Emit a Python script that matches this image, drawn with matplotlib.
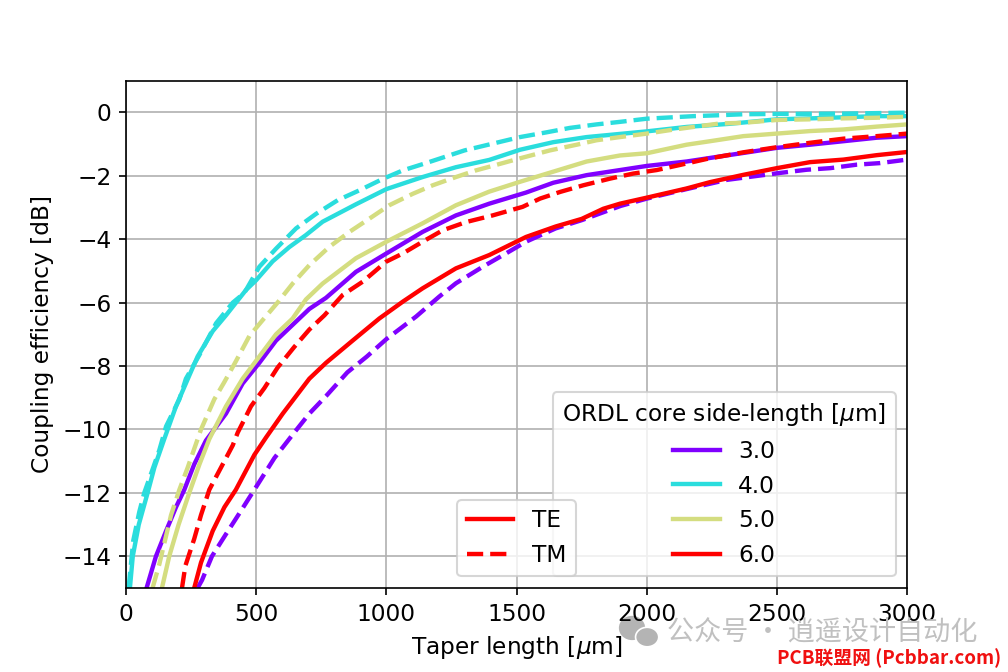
#!/usr/bin/env python3

import numpy as np
import matplotlib
matplotlib.use("Agg")
import matplotlib.pyplot as plt
from matplotlib.lines import Line2D
from matplotlib.patches import Ellipse

plt.rcParams["font.size"] = 11.2

# curve by curve. first point of each sits on the -15 edge
x_te_30 = [79, 115, 154, 192, 224, 262, 307, 384, 448, 512, 576, 640, 704, 768, 883, 1000, 1139, 1267,
           1395, 1536, 1641, 1769, 1897, 2000, 2153, 2281, 2371, 2499, 2627, 2755, 2883, 3000]
y_te_30 = [-15, -14, -13.2, -12.45, -11.9, -11.1, -10.35, -9.5, -8.55, -7.9, -7.2, -6.7, -6.2, -5.85,
           -5.03, -4.45, -3.77, -3.25, -2.88, -2.53, -2.22, -1.98, -1.82, -1.69, -1.55, -1.39, -1.28,
           -1.12, -1.02, -0.91, -0.8, -0.75]

x_tm_30 = [275, 292, 330, 384, 435, 493, 570, 646, 704, 768, 850, 925, 1000, 1114, 1203, 1267, 1370,
           1459, 1536, 1650, 1750, 1900, 2000, 2153, 2307, 2409, 2512, 2614, 2704, 2806, 2896, 3000]
y_tm_30 = [-15, -14.75, -14, -13.3, -12.65, -11.9, -10.9, -10.1, -9.5, -8.95, -8.2, -7.7, -7.15, -6.44,
           -5.81, -5.39, -4.87, -4.45, -4.08, -3.66, -3.4, -2.95, -2.72, -2.42, -2.13, -2.02, -1.91,
           -1.81, -1.76, -1.65, -1.6, -1.49]

x_te_40 = [15, 26, 49, 83, 109, 147, 192, 243, 275, 333, 384, 461, 499, 563, 627, 691, 755, 883, 1000,
           1139, 1267, 1395, 1513, 1641, 1769, 1897, 2000, 2153, 2320, 2499, 2627, 2883, 3000]
y_te_40 = [-15, -14, -13, -12, -11.2, -10.3, -9.27, -8.3, -7.7, -6.9, -6.4, -5.6, -5.3, -4.7, -4.25,
           -3.87, -3.45, -2.9, -2.42, -2.04, -1.73, -1.5, -1.18, -0.94, -0.78, -0.68, -0.6, -0.46,
           -0.36, -0.22, -0.19, -0.12, -0.12]

x_tm_40 = [10, 28, 51, 70, 96, 128, 154, 205, 230, 282, 346, 410, 454, 512, 576, 653, 730, 813, 896, 986,
           1063, 1152, 1300, 1513, 1615, 1705, 1807, 1897, 2000, 2089, 2179, 2281, 2371, 2499, 2755, 3000]
y_tm_40 = [-15, -13.5, -12.6, -12, -11.4, -10.65, -9.9, -9.05, -8.4, -7.65, -6.65, -6, -5.7, -4.87, -4.3,
           -3.66, -3.2, -2.77, -2.46, -2.1, -1.83, -1.6, -1.2, -0.78, -0.63, -0.49, -0.38, -0.3, -0.2,
           -0.16, -0.12, -0.09, -0.06, -0.05, -0.04, -0.01]

x_te_50 = [138, 166, 202, 243, 282, 320, 384, 448, 512, 576, 640, 691, 755, 883, 1000, 1139, 1267, 1395,
           1513, 1641, 1769, 1897, 2000, 2153, 2243, 2371, 2499, 2627, 2755, 2883, 3000]
y_te_50 = [-15, -14, -13, -12, -11.1, -10.3, -9.27, -8.4, -7.7, -7, -6.5, -5.9, -5.4, -4.6, -4.08, -3.5,
           -2.93, -2.5, -2.19, -1.87, -1.55, -1.36, -1.29, -1.02, -0.91, -0.75, -0.67, -0.59, -0.54,
           -0.45, -0.38]

x_tm_50 = [102, 128, 173, 205, 237, 271, 288, 339, 378, 422, 474, 525, 582, 640, 704, 781, 858, 935, 1011,
           1101, 1178, 1267, 1344, 1447, 1513, 1628, 1731, 1807, 1897, 2000, 2089, 2179, 2281, 2371,
           2499, 2627, 2755, 2883, 3000]
y_tm_50 = [-15, -14.25, -12.7, -11.9, -11.2, -10.4, -10, -9.05, -8.5, -7.85, -7.05, -6.55, -6, -5.4, -4.82,
           -4.24, -3.77, -3.35, -2.93, -2.57, -2.3, -2.04, -1.83, -1.6, -1.45, -1.2, -1.02, -0.88, -0.78,
           -0.67, -0.56, -0.46, -0.35, -0.33, -0.24, -0.22, -0.19, -0.17, -0.14]

x_te_60 = [262, 288, 333, 378, 422, 493, 538, 602, 653, 704, 768, 870, 973, 1063, 1139, 1267, 1395, 1536,
           1650, 1750, 1833, 1897, 2000, 2153, 2243, 2371, 2499, 2627, 2755, 2883, 3000]
y_te_60 = [-15, -14.2, -13.2, -12.45, -11.9, -10.8, -10.25, -9.5, -8.95, -8.4, -7.9, -7.2, -6.5, -5.97,
           -5.55, -4.92, -4.5, -3.93, -3.6, -3.36, -3.04, -2.88, -2.69, -2.4, -2.2, -1.97, -1.76, -1.57,
           -1.49, -1.35, -1.25]

x_tm_60 = [215, 228, 262, 288, 320, 352, 410, 429, 480, 531, 582, 646, 704, 762, 832, 909, 999, 1063, 1139,
           1216, 1306, 1408, 1523, 1590, 1667, 1756, 1859, 1948, 2038, 2127, 2230, 2371, 2499, 2627,
           2755, 2883, 3000]
y_tm_60 = [-15, -14.3, -13.45, -12.7, -11.9, -11.4, -10.5, -10.1, -9.27, -8.7, -8.05, -7.4, -6.85, -6.4,
           -5.76, -5.34, -4.71, -4.45, -4.08, -3.72, -3.46, -3.25, -2.98, -2.72, -2.51, -2.3, -2.09,
           -1.93, -1.82, -1.66, -1.47, -1.26, -1.1, -0.96, -0.83, -0.75, -0.67]

sides = ["3.0", "4.0", "5.0", "6.0"]
te_curves = [(x_te_30, y_te_30), (x_te_40, y_te_40), (x_te_50, y_te_50), (x_te_60, y_te_60)]
tm_curves = [(x_tm_30, y_tm_30), (x_tm_40, y_tm_40), (x_tm_50, y_tm_50), (x_tm_60, y_tm_60)]

colors = plt.cm.rainbow(np.linspace(0, 1, len(sides)))

fig, ax = plt.subplots(figsize=(6.72, 4.48), dpi=150)
fig.subplots_adjust(left=0.125, right=0.9, top=0.88, bottom=0.125)

for i in range(len(sides)):
    ax.plot(te_curves[i][0], te_curves[i][1], color=colors[i], lw=2.1)
    ax.plot(tm_curves[i][0], tm_curves[i][1], color=colors[i], lw=2.1, ls="--")

ax.set_xlim(0, 3000)
ax.set_ylim(-15, 1)
ax.set_xlabel(r"Taper length [$\mu$m]")
ax.set_ylabel("Coupling efficiency [dB]")
ax.grid(True)

handles = [Line2D([], [], color=c, lw=2.1) for c in colors]
leg1 = ax.legend(handles, sides, title=r"ORDL core side-length [$\mu$m]", loc="lower right")
ax.add_artist(leg1)

pol_handles = [Line2D([], [], color=colors[-1], lw=2.1),
               Line2D([], [], color=colors[-1], lw=2.1, ls="--")]
ax.legend(pol_handles, ["TE", "TM"], loc="lower center")

# watermarks along the bottom edge, icon behind the tick labels
big = Ellipse((0.627, 0.0655), 0.024, 0.033, color="#b4b4b4", transform=fig.transFigure, zorder=-2)
small = Ellipse((0.642, 0.052), 0.023, 0.029, facecolor="#b4b4b4", edgecolor="white", lw=0.8,
                transform=fig.transFigure, zorder=-1)
fig.add_artist(big)
fig.add_artist(small)
fig.text(0.662, 0.0585, "公众号 · 逍遥设计自动化", color="#c0c0c0", fontsize=13, va="center",
         family=["Noto Sans CJK SC", "DejaVu Sans"])
fig.text(0.771, 0.021, "PCB联盟网 (Pcbbar.com)", color="#f01010", fontsize=9, va="center",
         family=["Noto Sans CJK SC", "DejaVu Sans"], fontweight="bold")

fig.savefig("out.png", dpi=150)
